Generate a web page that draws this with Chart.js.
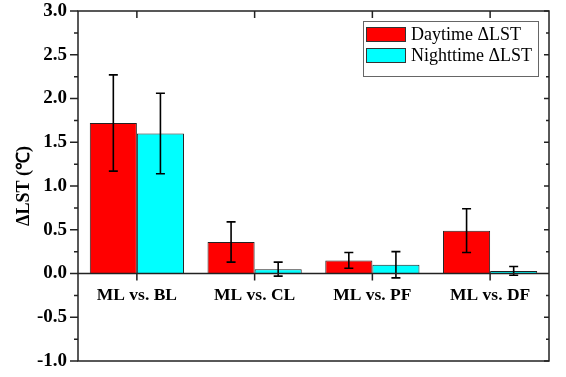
<!DOCTYPE html>
<html>
<head>
<meta charset="utf-8">
<script src="https://cdn.jsdelivr.net/npm/chart.js@4/dist/chart.umd.min.js"></script>
<style>
  body { margin: 0; background: #fff; }
  canvas { display: block; }
</style>
</head>
<body>
<canvas id="grafico" width="566" height="377"></canvas>
<script>
// datos
const categorias = ['ML vs. BL', 'ML vs. CL', 'ML vs. PF', 'ML vs. DF'];
const diaMedia = [1.72, 0.36, 0.15, 0.49];
const diaError = [0.55, 0.23, 0.09, 0.25];
const nocheMedia = [1.60, 0.05, 0.10, 0.03];
const nocheError = [0.46, 0.08, 0.15, 0.05];
const yTicks = [-1.0, -0.5, 0.0, 0.5, 1.0, 1.5, 2.0, 2.5, 3.0];

const errores = [diaError, nocheError];
const serif = "'Liberation Serif', 'Times New Roman', serif";

// barras de error
const pluginErrores = {
  id: 'errores',
  afterDatasetsDraw(chart) {
    const ctx = chart.ctx;
    const y = chart.scales.y;
    ctx.save();
    ctx.strokeStyle = '#000';
    ctx.lineWidth = 1.6;
    chart.data.datasets.forEach((ds, d) => {
      const meta = chart.getDatasetMeta(d);
      meta.data.forEach((bar, i) => {
        const v = ds.data[i], e = errores[d][i];
        const yHi = y.getPixelForValue(v + e);
        const yLo = y.getPixelForValue(v - e);
        ctx.beginPath();
        ctx.moveTo(bar.x, yHi); ctx.lineTo(bar.x, yLo);
        ctx.moveTo(bar.x - 4.5, yHi); ctx.lineTo(bar.x + 4.5, yHi);
        ctx.moveTo(bar.x - 4.5, yLo); ctx.lineTo(bar.x + 4.5, yLo);
        ctx.stroke();
      });
    });
    ctx.restore();
  }
};

// marco, marcas de los ejes y leyenda
const pluginMarco = {
  id: 'marco',
  afterDraw(chart) {
    const ctx = chart.ctx;
    const a = chart.chartArea;
    const y = chart.scales.y;
    const x = chart.scales.x;
    const y0 = y.getPixelForValue(0);
    ctx.save();
    ctx.strokeStyle = '#222';
    ctx.lineWidth = 1.5;
    ctx.strokeRect(a.left, a.top, a.right - a.left, a.bottom - a.top);
    ctx.beginPath();
    ctx.moveTo(a.left, y0); ctx.lineTo(a.right, y0);
    // marcas eje y
    for (let v = -1; v <= 3.001; v += 0.25) {
      const p = y.getPixelForValue(v);
      const mayor = Math.abs(v * 2 - Math.round(v * 2)) < 1e-6;
      ctx.moveTo(a.left, p); ctx.lineTo(a.left - (mayor ? 8 : 4), p);
      ctx.moveTo(a.right, p); ctx.lineTo(a.right - (mayor ? 5 : 3), p);
    }
    // marcas eje x
    categorias.forEach((c, i) => {
      const p = x.getPixelForValue(i);
      ctx.moveTo(p, y0); ctx.lineTo(p, y0 + 7);
      ctx.moveTo(p, a.top); ctx.lineTo(p, a.top + 7);
    });
    ctx.stroke();

    // leyenda
    ctx.strokeStyle = '#666';
    ctx.lineWidth = 1;
    ctx.strokeRect(363.5, 21.5, 175, 55);
    ctx.font = '18px ' + serif;
    ctx.textBaseline = 'middle';
    ctx.fillStyle = '#000';
    chart.data.datasets.forEach((ds, d) => {
      const top = 27 + d * 21;
      ctx.fillStyle = ds.backgroundColor;
      ctx.fillRect(366, top, 40, 15);
      ctx.strokeStyle = '#333';
      ctx.strokeRect(366.5, top + 0.5, 39, 14);
      ctx.fillStyle = '#000';
      ctx.fillText(ds.label, 411, top + 8);
    });
    ctx.restore();
  }
};

new Chart(document.getElementById('grafico'), {
  type: 'bar',
  data: {
    labels: categorias,
    datasets: [
      { label: 'Daytime \u0394LST', data: diaMedia, backgroundColor: '#ff0000', borderColor: '#222', borderWidth: 1,
        categoryPercentage: 0.8, barPercentage: 1.0 },
      { label: 'Nighttime \u0394LST', data: nocheMedia, backgroundColor: '#00ffff', borderColor: '#222', borderWidth: 1,
        categoryPercentage: 0.8, barPercentage: 1.0 }
    ]
  },
  options: {
    responsive: false,
    animation: false,
    layout: { padding: { top: 11, right: 17, bottom: 16, left: 0 } },
    plugins: { legend: { display: false }, tooltip: { enabled: false } },
    scales: {
      x: {
        position: { y: 0 },
        grid: { display: false, drawTicks: false },
        border: { display: false },
        ticks: { color: '#000', padding: 11, font: { family: serif, size: 17.5, weight: 'bold' } },
        afterFit(scale) { scale.paddingLeft = 0; scale.paddingRight = 0; }
      },
      y: {
        min: -1, max: 3,
        afterBuildTicks(scale) { scale.ticks = yTicks.map(v => ({ value: v })); },
        afterFit(scale) { scale.width = 78; scale.paddingTop = 0; scale.paddingBottom = 0; },
        grid: { display: false, drawTicks: false },
        border: { display: false },
        ticks: {
          color: '#000', padding: 11,
          font: { family: serif, size: 19, weight: 'bold' },
          callback: v => v.toFixed(1)
        },
        title: {
          display: true, text: '\u0394LST (\u2103)', color: '#000',
          padding: { top: 14, bottom: 0 },
          font: { family: serif, size: 18, weight: 'bold' }
        }
      }
    }
  },
  plugins: [pluginErrores, pluginMarco]
});
</script>
</body>
</html>
